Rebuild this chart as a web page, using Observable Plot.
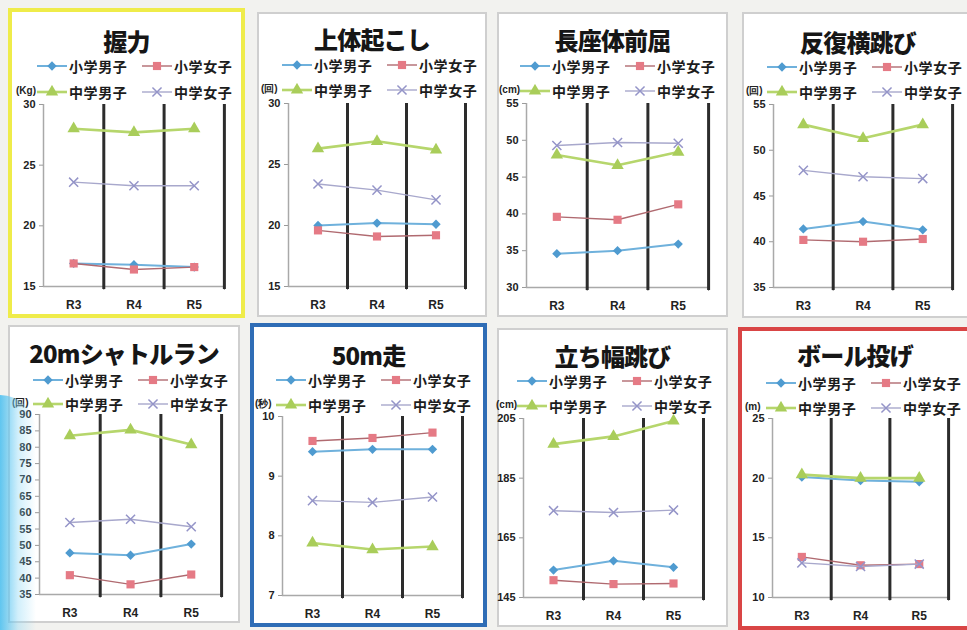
<!DOCTYPE html>
<html><head><meta charset="utf-8">
<script src="https://cdn.jsdelivr.net/npm/d3@7"></script>
<script src="https://cdn.jsdelivr.net/npm/@observablehq/plot@0.6"></script>
<style>
body{margin:0;width:967px;height:630px;background:#f2f2ef;position:relative;overflow:hidden;font-family:"Noto Sans CJK JP",sans-serif}
.abs{position:absolute;white-space:nowrap}
.panel{position:absolute;background:#fff;box-sizing:border-box}
.title{font-weight:900;font-size:24px;color:#161616;text-align:center;line-height:26px;letter-spacing:-0.8px}
.leg{font-weight:700;font-size:14px;color:#1c1c1c;line-height:16px;letter-spacing:0.6px}
.unit{font-family:"Liberation Sans",Arial,sans-serif;font-weight:700;font-size:10px;color:#222;line-height:12px}
</style></head><body>
<script>
// ---- data ----
const years = ["R3", "R4", "R5"];
const seriesNames = ["小学男子", "小学女子", "中学男子", "中学女子"];
const titles = ["握力", "上体起こし", "長座体前屈", "反復横跳び", "20mシャトルラン", "50m走", "立ち幅跳び", "ボール投げ"];
const units = ["(Kg)", "(回)", "(cm)", "(回)", "(回)", "(秒)", "(cm)", "(m)"];
const yDomains = [[15, 30], [15, 30], [30, 55], [35, 55], [35, 90], [7, 10], [145, 205], [10, 25]];
const yTicks = [
  [15, 20, 25, 30], [15, 20, 25, 30], [30, 35, 40, 45, 50, 55], [35, 40, 45, 50, 55],
  [35, 40, 45, 50, 55, 60, 65, 70, 75, 80, 85, 90], [7, 8, 9, 10], [145, 165, 185, 205], [10, 15, 20, 25]
];
// rows: 小学男子, 小学女子, 中学男子, 中学女子 ; columns: R3, R4, R5
const gripValues     = [[16.9, 16.8, 16.6], [16.9, 16.4, 16.6], [28.0, 27.7, 28.0], [23.6, 23.3, 23.3]];
const situpValues    = [[20.0, 20.2, 20.1], [19.6, 19.1, 19.2], [26.3, 26.9, 26.2], [23.4, 22.9, 22.1]];
const sitReachValues = [[34.6, 35.0, 35.9], [39.6, 39.2, 41.3], [48.0, 46.6, 48.4], [49.3, 49.7, 49.6]];
const sideStepValues = [[41.4, 42.2, 41.3], [40.2, 40.0, 40.3], [52.8, 51.3, 52.8], [47.8, 47.1, 46.9]];
const shuttleValues  = [[47.7, 47.0, 50.4], [40.9, 38.1, 41.1], [83.5, 85.3, 80.8], [57.0, 58.0, 55.7]];
const dash50Values   = [[9.41, 9.45, 9.45], [9.59, 9.64, 9.73], [7.88, 7.77, 7.82], [8.59, 8.56, 8.65]];
const jumpValues     = [[154.2, 157.3, 155.1], [150.8, 149.5, 149.7], [196.4, 199.0, 204.2], [174.1, 173.5, 174.3]];
const throwValues    = [[20.1, 19.8, 19.7], [13.4, 12.7, 12.8], [20.3, 20.0, 20.0], [12.9, 12.6, 12.8]];
const allValues = [gripValues, situpValues, sitReachValues, sideStepValues, shuttleValues, dash50Values, jumpValues, throwValues];

// ---- styles ----
const seriesStyle = [
  {line: "#6fb1dc", lw: 2, fill: "#4f9bd0", stroke: "none", symbol: "diamond2", r: 4.2, d3sym: d3.symbolDiamond2},
  {line: "#b06a70", lw: 1.4, fill: "#e57a85", stroke: "none", symbol: "square", r: 4.6, d3sym: d3.symbolSquare},
  {line: "#b6d66c", lw: 2.6, fill: "#a9cd5a", stroke: "none", symbol: "triangle", r: 4.6, d3sym: d3.symbolTriangle},
  {line: "#a8a8cc", lw: 1.4, fill: "none", stroke: "#9494c8", symbol: "times", r: 4.2, d3sym: d3.symbolTimes}
];
// panel layout: box x,y,w,h, axis x, plot top, plot bottom, band width, title y, legend rows y, border
const layout = [
  {x: 8, y: 8, w: 237, h: 310, ax: 43, top: 104, bot: 286, bw: 60.3, ty: 41, l1: 66, l2: 92, bc: "#efec4a", bwid: 4},
  {x: 257, y: 12, w: 230, h: 305, ax: 288, top: 103, bot: 286, bw: 59, ty: 39, l1: 65, l2: 90, bc: "#cfcfcf", bwid: 2},
  {x: 497, y: 12, w: 231, h: 305, ax: 526, top: 103, bot: 287, bw: 60.7, ty: 40, l1: 66, l2: 91, bc: "#cfcfcf", bwid: 2},
  {x: 742, y: 12, w: 232, h: 306, ax: 773, top: 104, bot: 287, bw: 59.7, ty: 42, l1: 67, l2: 92, bc: "#cfcfcf", bwid: 2},
  {x: 8, y: 325, w: 232, h: 298, ax: 39, top: 414, bot: 594, bw: 60.7, ty: 353, l1: 380, l2: 404, bc: "#cfcfcf", bwid: 2},
  {x: 250, y: 323, w: 237, h: 304, ax: 282, top: 416, bot: 595, bw: 60, ty: 355, l1: 380, l2: 405, bc: "#2f6db6", bwid: 4},
  {x: 497, y: 328, w: 231, h: 299, ax: 523, top: 418, bot: 597, bw: 60, ty: 356, l1: 381, l2: 406, bc: "#cfcfcf", bwid: 2},
  {x: 738, y: 327, w: 234, h: 303, ax: 772, top: 418, bot: 597, bw: 58.7, ty: 355, l1: 383, l2: 408, bc: "#d94545", bwid: 4}
];

function el(tag, cls, style, text) {
  const e = document.createElement(tag);
  if (cls) e.className = cls;
  Object.assign(e.style, style);
  if (text != null) e.textContent = text;
  document.body.appendChild(e);
  return e;
}
function swatch(si, left, cy) {
  const s = seriesStyle[si];
  const svg = d3.create("svg").attr("width", 32).attr("height", 14)
    .style("position", "absolute").style("left", left + "px").style("top", (cy - 7) + "px");
  svg.append("line").attr("x1", 1).attr("x2", 31).attr("y1", 7).attr("y2", 7)
    .attr("stroke", s.line).attr("stroke-width", s.lw);
  svg.append("path").attr("transform", "translate(16,7)")
    .attr("d", d3.symbol(s.d3sym, s.r * s.r * Math.PI)())
    .attr("fill", s.fill).attr("stroke", s.stroke).attr("stroke-width", 1.5);
  document.body.appendChild(svg.node());
}

// background swirl (left edge)
el("div", "abs", {left: "0px", top: "395px", width: "36px", height: "235px",
  background: "linear-gradient(to right, rgba(70,190,240,0.85), rgba(140,215,245,0.4) 50%, rgba(255,255,255,0))",
  borderTopRightRadius: "40px", zIndex: 2});

titles.forEach((title, i) => {
  const L = layout[i];
  const values = allValues[i];
  el("div", "panel", {left: L.x + "px", top: L.y + "px", width: L.w + "px", height: L.h + "px",
    border: `${L.bwid}px solid ${L.bc}`});
  el("div", "abs title", {left: L.x + "px", width: L.w + "px", top: (L.ty - 13) + "px"}, title);
  // legend
  const pos = [[L.ax - 6, L.l1], [L.ax + 99, L.l1], [L.ax - 6, L.l2], [L.ax + 99, L.l2]];
  seriesNames.forEach((name, si) => {
    swatch(si, pos[si][0] - 1, pos[si][1]);
    el("div", "abs leg", {left: (pos[si][0] + 32) + "px", top: (pos[si][1] - 8) + "px"}, name);
  });
  el("div", "abs unit", {left: (L.ax - 27) + "px", top: (L.l2 - 7) + "px"}, units[i]);

  const data = seriesNames.flatMap((s, si) => years.map((yr, yi) => ({series: si, pos: yi + 0.5, value: values[si][yi]})));
  const mL = 32, mR = 10, mT = 8, mB = 30;
  const dom = yDomains[i];
  const marks = [
    Plot.ruleX([0], {stroke: "#a9a9a9", strokeWidth: 1.5}),
    Plot.ruleY([dom[0]], {stroke: "#a9a9a9", strokeWidth: 1.5}),
    Plot.axisY({ticks: yTicks[i], tickSize: 4, tickPadding: 4, stroke: "#9a9a9a", label: null, fontSize: 11,
      tickFormat: d => String(d)}),
    Plot.axisX({ticks: [1, 2, 3], tickSize: 4, tickFormat: () => "", stroke: "#9a9a9a", label: null}),
    Plot.ruleX([1, 2, 3], {stroke: "#2c2c2c", strokeWidth: 3, insetBottom: -3}),
    Plot.axisX({ticks: years.map((y, k) => k + 0.5), tickSize: 0, tickPadding: 14,
      tickFormat: v => years[Math.floor(v)], label: null, fontSize: 12})
  ];
  seriesStyle.forEach((s, si) => {
    const d = data.filter(r => r.series === si);
    marks.push(Plot.line(d, {x: "pos", y: "value", stroke: s.line, strokeWidth: s.lw}));
    marks.push(Plot.dot(d, {x: "pos", y: "value", symbol: s.symbol, r: s.r, fill: s.fill, stroke: s.stroke, strokeWidth: 1.5}));
  });
  const chart = Plot.plot({
    width: mL + 3 * L.bw + mR,
    height: mT + (L.bot - L.top) + mB,
    marginLeft: mL, marginRight: mR, marginTop: mT, marginBottom: mB,
    x: {domain: [0, 3], axis: null},
    y: {domain: dom, axis: null},
    style: {background: "transparent", fontFamily: "'Liberation Sans', Arial, sans-serif", fontWeight: "bold",
      color: "#222", overflow: "visible"},
    marks
  });
  Object.assign(chart.style, {position: "absolute", left: (L.ax - mL) + "px", top: (L.top - mT) + "px"});
  document.body.appendChild(chart);
});
</script>
</body></html>
